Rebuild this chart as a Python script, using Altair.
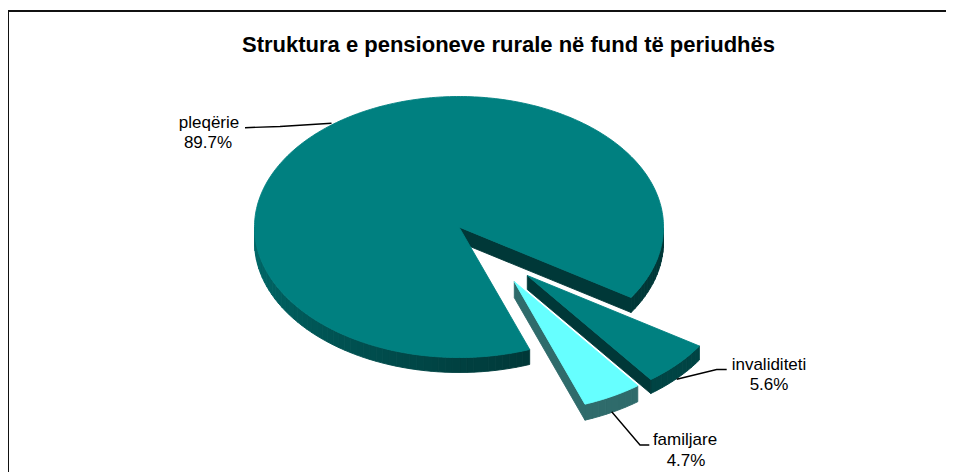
import math
import altair as alt
import pandas as pd

# ---- values
categories = ["invaliditeti", "familjare", "pleqërie"]
shares = [5.6, 4.7, 89.7]
share_labels = ["5.6%", "4.7%", "89.7%"]
TITLE = "Struktura e pensioneve rurale në fund të periudhës"

# ---- pie geometry (page pixels)
START = 32.7            # first slice starts here, clockwise from east, in the un-tilted circle
RX, RY = 204.5, 130.5
APEX = {"pleqërie": (459, 227), "invaliditeti": (527.3, 275.5), "familjare": (514.3, 281.7)}
DEPTH = {"pleqërie": 15, "invaliditeti": 14, "familjare": 16}
WALL_FLANK = {"invaliditeti": "#003838", "familjare": "#2F6B6B", "pleqërie": "#003838"}
STEP = 2.0


def pt(apex, t):
    a = math.radians(t)
    return (apex[0] + RX * math.cos(a), apex[1] + RY * math.sin(a))


def feature(ring, colour):
    ring = [list(p) for p in ring]
    ring.append(ring[0])
    return {"type": "Feature",
            "geometry": {"type": "Polygon", "coordinates": [ring]},
            "properties": {"fill": colour}}


def wall_shade(name, t):
    if name == "familjare":
        return "#2F6B6B"
    if name == "invaliditeti":
        return "#004444"
    if t <= 70:
        return "#003838"
    g = int(0x38 + (0x6C - 0x38) * min(1, (t - 70) / 110))
    return f"#00{g:02X}{g:02X}"


sweeps = {}
t = START
for name, share in zip(categories, shares):
    sweeps[name] = (t, t + share * 3.6)
    t += share * 3.6

features = []
for name, colour in zip(["pleqërie", "familjare", "invaliditeti"], ["#008080", "#66FFFF", "#008080"]):
    a0, a1 = sweeps[name]
    apex = APEX[name]
    d = DEPTH[name]
    # outer wall, cut into short strips so it can be shaded
    n = max(2, int((a1 - a0) / STEP))
    ts = [a0 + (a1 - a0) * i / n for i in range(n + 1)]
    for u, v in zip(ts[:-1], ts[1:]):
        norm = (u + v) / 2 % 360
        if 0 <= norm <= 180:
            p, q = pt(apex, u), pt(apex, v)
            features.append(feature([p, q, (q[0], q[1] + d), (p[0], p[1] + d)], wall_shade(name, norm)))
    # flat flank that faces the viewer (the end of the sweep in each slice)
    edge = pt(apex, a1)
    features.append(feature([apex, edge, (edge[0], edge[1] + d), (apex[0], apex[1] + d)], WALL_FLANK[name]))
    # top face
    m = int(a1 - a0)
    ring = [apex] + [pt(apex, a0 + (a1 - a0) * i / m) for i in range(m + 1)]
    features.append(feature(ring, colour))

shapes = alt.Chart(alt.Data(values=features)).mark_geoshape(strokeWidth=0.9).encode(
    fill=alt.Color("properties.fill:N", scale=None, legend=None),
    stroke=alt.Color("properties.fill:N", scale=None, legend=None),
).project(type="identity", scale=1, translate=[-10, -8])

X = alt.Scale(domain=[10, 946], nice=False, zero=False)
Y = alt.Scale(domain=[472, 8], nice=False, zero=False)

leaders = pd.DataFrame([
    dict(s="p", o=0, x=245, y=127.7), dict(s="p", o=1, x=280, y=126.5), dict(s="p", o=2, x=331.5, y=123.3),
    dict(s="i", o=0, x=676.7, y=379.3), dict(s="i", o=1, x=716.7, y=369.5), dict(s="i", o=2, x=726.7, y=369.5),
    dict(s="f", o=0, x=611.7, y=411.7), dict(s="f", o=1, x=640, y=445), dict(s="f", o=2, x=649.3, y=445),
])
leader_marks = alt.Chart(leaders).mark_line(color="black", strokeWidth=1.4).encode(
    x=alt.X("x:Q", scale=X, axis=None),
    y=alt.Y("y:Q", scale=Y, axis=None),
    detail="s:N", order="o:Q",
)

texts = pd.DataFrame([
    dict(t=categories[2], x=209, y=128), dict(t=share_labels[2], x=208, y=148),
    dict(t=categories[0], x=769, y=370), dict(t=share_labels[0], x=769, y=390),
    dict(t=categories[1], x=685, y=445), dict(t=share_labels[1], x=686, y=466),
])
text_marks = alt.Chart(texts).mark_text(font="Liberation Sans", fontSize=17, baseline="alphabetic", align="center", color="black").encode(
    x=alt.X("x:Q", scale=X, axis=None),
    y=alt.Y("y:Q", scale=Y, axis=None),
    text="t:N",
)

title_mark = alt.Chart(pd.DataFrame([dict(t=TITLE, x=508.5, y=52)])).mark_text(
    font="Liberation Sans", fontSize=22, fontWeight="bold", baseline="alphabetic", align="center", color="black"
).encode(x=alt.X("x:Q", scale=X, axis=None), y=alt.Y("y:Q", scale=Y, axis=None), text="t:N")

frame = pd.DataFrame([dict(x=7, x2=946, y=11, y2=11), dict(x=8, x2=8, y=10, y2=472)])
frame_marks = alt.Chart(frame).mark_rule(color="#111111", strokeWidth=2).encode(
    x=alt.X("x:Q", scale=X, axis=None), x2="x2:Q",
    y=alt.Y("y:Q", scale=Y, axis=None), y2="y2:Q",
)

chart = alt.layer(shapes, leader_marks, text_marks, title_mark, frame_marks).properties(
    width=936, height=464,
    padding={"left": 2, "top": 0, "right": 0, "bottom": 0},
    autosize=alt.AutoSizeParams(type="none"),
    background="white",
).configure_view(stroke=None)

chart.save("out.html", embed_options={"renderer": "svg", "actions": False})
